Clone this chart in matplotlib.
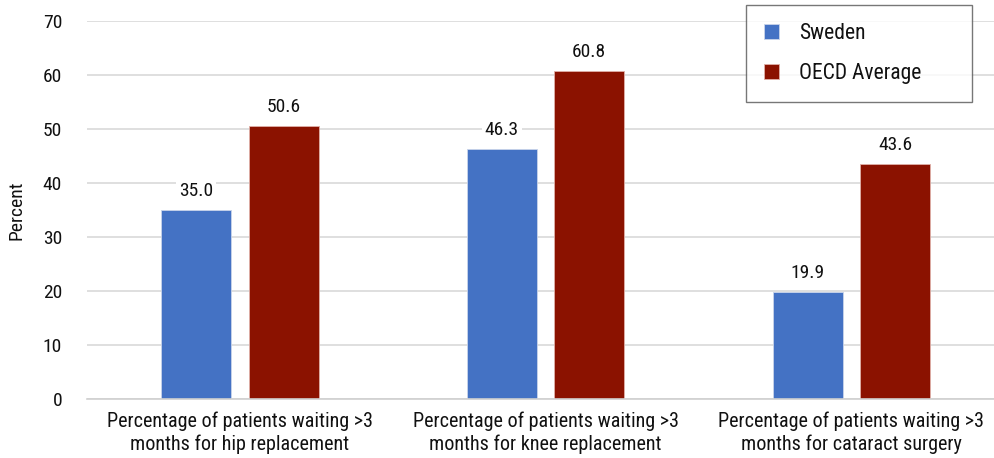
import matplotlib
matplotlib.use("Agg")
import matplotlib.pyplot as plt
import numpy as np

plt.rcParams['font.family'] = ['Roboto Condensed', 'DejaVu Sans']

categories = ["Percentage of patients waiting >3\nmonths for hip replacement",
              "Percentage of patients waiting >3\nmonths for knee replacement",
              "Percentage of patients waiting >3\nmonths for cataract surgery"]
sweden = [35.0, 46.3, 19.9]
oecd = [50.6, 60.8, 43.6]
yticks = [0, 10, 20, 30, 40, 50, 60, 70]

fig = plt.figure(figsize=(9.94, 4.58), dpi=100)
ax = fig.add_axes([87 / 994, 59 / 458, 907 / 994, 378 / 458])

x = np.arange(len(categories))
w = 0.229
b1 = ax.bar(x - 0.143, sweden, w, color="#4472C4", edgecolor="#c9d4ea", linewidth=0.6,
            label="Sweden", zorder=2)
b2 = ax.bar(x + 0.143, oecd, w, color="#8B1200", edgecolor="#e0b0a8", linewidth=0.6,
            label="OECD Average", zorder=2)

for bars, vals in ((b1, sweden), (b2, oecd)):
    for r, v in zip(bars, vals):
        ax.annotate(f"{v:.1f}", (r.get_x() + r.get_width() / 2, v), xytext=(0, 7),
                    textcoords="offset points", ha="center", va="bottom", fontsize=14,
                    color="#111111", zorder=3,
                    bbox=dict(boxstyle="square,pad=0.15", fc="white", ec="none"))

ax.set_xlim(-0.5, 2.467)
ax.set_ylim(0, 70)
ax.set_yticks(yticks)
ax.set_xticks(x)
ax.set_xticklabels(categories, linespacing=1.25)
ax.tick_params(axis="x", length=0, pad=9, labelsize=14.5, labelcolor="#111111")
ax.tick_params(axis="y", length=0, pad=18, labelsize=14, labelcolor="#111111")
ax.yaxis.grid(True, color="#d9d9d9", linewidth=1.2, zorder=0)
ax.set_axisbelow(True)
for s in ("top", "right", "left"):
    ax.spines[s].set_visible(False)
ax.spines["bottom"].set_color("#d0d0d0")
ax.spines["bottom"].set_linewidth(1.2)
ax.set_ylabel("Percent", fontsize=14, labelpad=12, color="#111111")

leg = ax.legend(loc="upper left", bbox_to_anchor=(746 / 994, 1 - 103 / 458, 226 / 994, 98 / 458),
                bbox_transform=fig.transFigure, mode="expand", fontsize=15.5, frameon=True,
                fancybox=False, borderpad=0.85, labelspacing=0.85, handlelength=0.7,
                handleheight=0.7, handletextpad=0.9, borderaxespad=0)
leg.get_frame().set_edgecolor("#555555")
leg.get_frame().set_linewidth(1.0)
for t in leg.get_texts():
    t.set_color("#111111")

fig.savefig("out.png")
